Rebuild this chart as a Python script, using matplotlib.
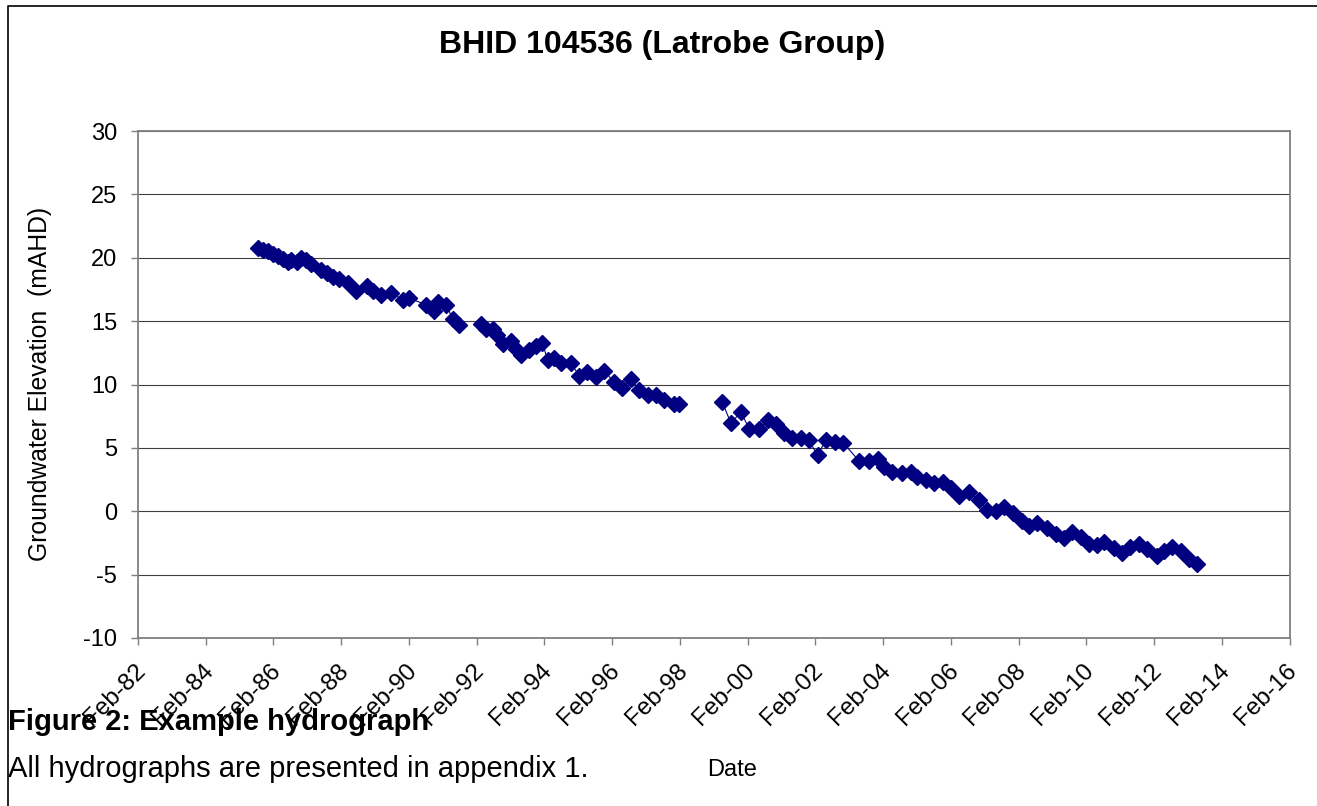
import matplotlib
matplotlib.use('Agg')
import matplotlib.pyplot as plt
import matplotlib.dates as mdates
import matplotlib.transforms as mtransforms
from matplotlib.lines import Line2D
import numpy as np

plt.rcParams['font.family'] = ['Liberation Sans', 'DejaVu Sans']
plt.rcParams['axes.unicode_minus'] = False

# ---------------- data ----------------
title = 'BHID 104536 (Latrobe Group)'
y_label = 'Groundwater Elevation  (mAHD)'
x_label = 'Date'
caption_title = 'Figure 2: Example hydrograph'
caption_text = 'All hydrographs are presented in appendix 1.'

seg1_dates = ['1985-08-14', '1985-10-08', '1985-12-02', '1986-01-22', '1986-03-18',
              '1986-05-12', '1986-07-06', '1986-08-08', '1986-10-12', '1986-11-25',
              '1987-01-19', '1987-03-10', '1987-06-28', '1987-09-02', '1987-11-03',
              '1988-01-11', '1988-04-12', '1988-07-08', '1988-11-06', '1989-01-08',
              '1989-04-06', '1989-07-24', '1989-11-24', '1990-02-06', '1990-08-03',
              '1990-10-27', '1990-12-06', '1991-03-07', '1991-05-19', '1991-07-27']
seg1_levels = [20.8, 20.6, 20.5, 20.3, 20.1, 19.9, 19.7, 19.8, 19.7, 20.0,
               19.8, 19.5, 19.0, 18.8, 18.5, 18.3, 18.0, 17.4, 17.8, 17.4,
               17.1, 17.2, 16.7, 16.8, 16.3, 15.8, 16.5, 16.3, 15.2, 14.7]

seg2_dates = ['1992-03-17', '1992-05-11', '1992-07-23', '1992-09-12', '1992-11-06',
              '1993-02-06', '1993-03-29', '1993-05-23', '1993-08-22', '1993-10-30',
              '1994-01-11', '1994-03-07', '1994-05-12', '1994-07-27', '1994-11-13',
              '1995-02-10', '1995-05-11', '1995-08-07', '1995-11-06', '1996-02-20',
              '1996-05-22', '1996-08-22', '1996-11-17', '1997-02-17', '1997-05-15',
              '1997-08-14', '1997-12-01', '1998-01-22']
seg2_levels = [14.8, 14.4, 14.4, 13.9, 13.2, 13.4, 12.8, 12.3, 12.7, 13.0,
               13.3, 11.9, 12.1, 11.7, 11.7, 10.7, 11.0, 10.6, 11.1, 10.2,
               9.7, 10.4, 9.6, 9.2, 9.2, 8.8, 8.5, 8.5]

seg3_dates = ['1999-05-04', '1999-08-03', '1999-11-24', '2000-02-17', '2000-06-03',
              '2000-09-09', '2000-12-02', '2001-02-28', '2001-05-30', '2001-09-02',
              '2001-11-24', '2002-02-24', '2002-05-23', '2002-08-29', '2002-11-28',
              '2003-05-15', '2003-09-02', '2003-12-05', '2004-02-10', '2004-05-12',
              '2004-08-26', '2004-11-25', '2005-02-06', '2005-05-05', '2005-08-04',
              '2005-11-03', '2006-01-30', '2006-04-28', '2006-08-15', '2006-11-28',
              '2007-02-28', '2007-05-30', '2007-08-26', '2007-12-06', '2008-03-14',
              '2008-05-23', '2008-08-22', '2008-12-05', '2009-03-07', '2009-06-03',
              '2009-09-02', '2009-12-02', '2010-02-28', '2010-05-30', '2010-08-15',
              '2010-11-24', '2011-02-24', '2011-05-23', '2011-08-22', '2011-11-17',
              '2012-02-28', '2012-05-15', '2012-08-15', '2012-11-13', '2013-02-10',
              '2013-05-12']
seg3_levels = [8.6, 7.0, 7.8, 6.5, 6.5, 7.2, 6.9, 6.2, 5.8, 5.8,
               5.6, 4.4, 5.6, 5.5, 5.4, 4.0, 4.0, 4.1, 3.5, 3.1,
               3.0, 3.1, 2.7, 2.5, 2.2, 2.3, 1.8, 1.2, 1.5, 0.9,
               0.1, 0.0, 0.3, -0.1, -0.8, -1.2, -0.9, -1.3, -1.8, -2.1,
               -1.6, -2.0, -2.6, -2.7, -2.4, -2.9, -3.3, -2.8, -2.6, -3.0,
               -3.5, -3.1, -2.8, -3.1, -3.8, -4.2]

y_ticks = [-10, -5, 0, 5, 10, 15, 20, 25, 30]
x_tick_dates = ['1982-02-01', '1984-02-01', '1986-02-01', '1988-02-01', '1990-02-01',
                '1992-02-01', '1994-02-01', '1996-02-01', '1998-02-01', '2000-02-01',
                '2002-02-01', '2004-02-01', '2006-02-01', '2008-02-01', '2010-02-01',
                '2012-02-01', '2014-02-01', '2016-02-01']

# ---------------- figure ----------------
W, H = 1317, 806
fig = plt.figure(figsize=(W / 100, H / 100), dpi=100)
ax = fig.add_axes([138 / W, 1 - 638 / H, (1289.5 - 138) / W, (638 - 131) / H])

navy = '#000080'
for d, v in [(seg1_dates, seg1_levels), (seg2_dates, seg2_levels), (seg3_dates, seg3_levels)]:
    dd = np.array(d, dtype='datetime64[D]')
    ax.plot(dd, v, color=navy, lw=0.8, marker='D', ms=7.8,
            markerfacecolor=navy, markeredgecolor=navy, zorder=3)

xt = np.array(x_tick_dates, dtype='datetime64[D]')
ax.set_xlim(xt[0], xt[-1])
ax.set_ylim(y_ticks[0], y_ticks[-1])
ax.set_yticks(y_ticks)
ax.set_xticks(xt)
ax.xaxis.set_major_formatter(mdates.DateFormatter('%b-%y'))

ax.yaxis.grid(True, color='#404040', lw=0.8)
ax.set_axisbelow(True)
for s in ax.spines.values():
    s.set_color('#808080')
    s.set_linewidth(1.3)

ax.tick_params(axis='y', direction='out', length=5, width=1, color='#808080',
               labelsize=17, pad=10, labelcolor='black')
ax.tick_params(axis='x', direction='out', length=5, width=1, color='#808080',
               labelsize=17.5, pad=16, labelcolor='black')

offset = mtransforms.ScaledTranslation(4 / 100, 0, fig.dpi_scale_trans)
for lab in ax.get_xticklabels():
    lab.set_rotation(45)
    lab.set_ha('right')
    lab.set_va('center')
    lab.set_rotation_mode('anchor')
    lab.set_transform(lab.get_transform() + offset)

fig.text(40 / W, 1 - 384 / H, y_label, rotation=90, ha='center', va='center', fontsize=17.8)
fig.text(662 / W, 1 - 53 / H, title, ha='center', va='baseline', fontsize=23, fontweight='bold')
fig.text(732 / W, 1 - 776 / H, x_label, ha='center', va='baseline', fontsize=17)
fig.text(8 / W, 1 - 730 / H, caption_title, ha='left', va='baseline', fontsize=21,
         fontweight='bold', zorder=5)
fig.text(8 / W, 1 - 777 / H, caption_text, ha='left', va='baseline', fontsize=21)

fig.add_artist(Line2D([7.5 / W, 7.5 / W, 1.0], [0.0, 1 - 5.5 / H, 1 - 5.5 / H],
                      transform=fig.transFigure, color='black', lw=1.2))

fig.savefig('out.png', dpi=100, facecolor='white')
